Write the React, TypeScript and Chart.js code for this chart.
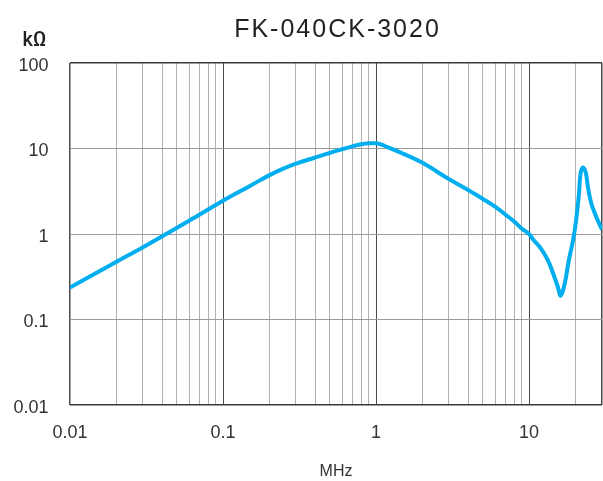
import React, { useEffect, useRef } from "react";
import { Chart, registerables } from "chart.js";

Chart.register(...registerables);

const chartTitle = "FK-040CK-3020";
const yUnit = "kΩ";
const xUnit = "MHz";

const frequencyMHz = [
  0.01, 0.02, 0.03, 0.05, 0.07, 0.1, 0.15, 0.2, 0.25, 0.3, 0.4, 0.5, 0.6, 0.7,
  0.8, 0.9, 1.0, 1.1, 1.2, 1.5, 2, 3, 4, 5, 6, 7, 8, 9, 10, 10.6, 12, 13.3,
  14.4, 15.5, 16.1, 17.1, 18.2, 19.4, 20.3, 21.2, 21.7, 22.5, 23.5, 24.3,
  25.6, 27.6, 30,
];
const impedanceKOhm = [
  0.237, 0.47, 0.7, 1.18, 1.68, 2.45, 3.65, 4.85, 5.85, 6.65, 7.85, 8.9, 9.8,
  10.6, 11.2, 11.5, 11.5, 11.0, 10.3, 8.7, 6.84, 4.38, 3.27, 2.57, 2.09, 1.69,
  1.4, 1.15, 1.0, 0.87, 0.67, 0.49, 0.343, 0.235, 0.19, 0.26, 0.49, 0.84,
  1.43, 2.93, 5.0, 6.0, 5.2, 3.5, 2.24, 1.57, 1.12,
];

const xGridValues = [
  0.01, 0.02, 0.03, 0.04, 0.05, 0.06, 0.07, 0.08, 0.09,
  0.1, 0.2, 0.3, 0.4, 0.5, 0.6, 0.7, 0.8, 0.9,
  1, 2, 3, 4, 5, 6, 7, 8, 9,
  10, 20, 30,
];
const xMajorValues = [0.01, 0.1, 1, 10, 30];
const xLabelValues = [0.01, 0.1, 1, 10];
const xLabelTexts = ["0.01", "0.1", "1", "10"];

const yGridValues = [0.01, 0.1, 1, 10, 100];
const yLabelTexts = ["0.01", "0.1", "1", "10", "100"];
const yEdgeValues = [0.01, 100];

const same = (a: number, b: number) => Math.abs(a - b) / b < 1e-6;

export default function App() {
  const ref = useRef<HTMLCanvasElement | null>(null);

  useEffect(() => {
    document.body.style.margin = "0";
    if (!ref.current) return;

    const textPlugin = {
      id: "texts",
      afterDraw(chart: any) {
        const ctx = chart.ctx;
        ctx.save();
        ctx.fillStyle = "#231f20";
        ctx.textAlign = "center";
        ctx.textBaseline = "alphabetic";
        ctx.font = '25px "Liberation Sans"';
        try { ctx.letterSpacing = "2px"; } catch (e) {}
        ctx.fillText(chartTitle, 337.5, 37);
        try { ctx.letterSpacing = "0px"; } catch (e) {}
        ctx.textAlign = "left";
        ctx.font = '500 20px Roboto';
        ctx.fillText(yUnit, 22.5, 46);
        ctx.restore();
      },
    };

    const chart = new Chart(ref.current, {
      type: "line",
      data: {
        datasets: [
          {
            data: frequencyMHz.map((f, i) => ({ x: f, y: impedanceKOhm[i] })),
            borderColor: "#00aeef",
            borderWidth: 4,
            pointRadius: 0,
            fill: false,
            tension: 0.4,
          },
        ],
      },
      options: {
        animation: false,
        responsive: false,
        layout: { padding: { top: 63, left: 0, right: 1, bottom: 0 } },
        plugins: {
          legend: { display: false },
          tooltip: { enabled: false },
          title: { display: false },
        },
        scales: {
          x: {
            type: "logarithmic",
            min: 0.01,
            max: 30,
            afterBuildTicks: (scale: any) => {
              scale.ticks = xGridValues.map((v) => ({ value: v }));
            },
            afterFit: (scale: any) => {
              scale.height = 76;
              scale.paddingLeft = 0;
              scale.paddingRight = 0;
            },
            border: { display: false },
            grid: {
              drawTicks: false,
              color: (c: any) =>
                xMajorValues.some((v) => same(c.tick.value, v)) ? "#4a4a4a" : "#b0b0b0",
              lineWidth: (c: any) =>
                [0.01, 30].some((v) => same(c.tick.value, v)) ? 1.5 : 1,
            },
            ticks: {
              autoSkip: false,
              maxRotation: 0,
              padding: 17,
              color: "#333",
              font: { family: '"Liberation Sans"', size: 18 },
              callback: (value: any) => {
                const i = xLabelValues.findIndex((v) => same(Number(value), v));
                return i >= 0 ? xLabelTexts[i] : "";
              },
            },
            title: {
              display: true,
              text: xUnit,
              color: "#333",
              font: { family: '"Liberation Sans"', size: 16 },
              padding: { top: 0, bottom: 0 },
            },
          },
          y: {
            type: "logarithmic",
            min: 0.01,
            max: 100,
            afterBuildTicks: (scale: any) => {
              scale.ticks = yGridValues.map((v) => ({ value: v }));
            },
            afterFit: (scale: any) => {
              scale.width = 70;
            },
            border: { display: false },
            grid: {
              drawTicks: false,
              color: (c: any) =>
                yEdgeValues.some((v) => same(c.tick.value, v)) ? "#3a3a3a" : "#9a9a9a",
              lineWidth: (c: any) =>
                yEdgeValues.some((v) => same(c.tick.value, v)) ? 1.5 : 1,
            },
            ticks: {
              autoSkip: false,
              padding: 21.5,
              labelOffset: 3,
              color: "#333",
              font: { family: '"Liberation Sans"', size: 18 },
              callback: (value: any) => {
                const i = yGridValues.findIndex((v) => same(Number(value), v));
                return i >= 0 ? yLabelTexts[i] : "";
              },
            },
          },
        },
      },
      plugins: [textPlugin],
    } as any);

    return () => chart.destroy();
  }, []);

  return <canvas ref={ref} width={603} height={481} style={{ display: "block" }} />;
}
